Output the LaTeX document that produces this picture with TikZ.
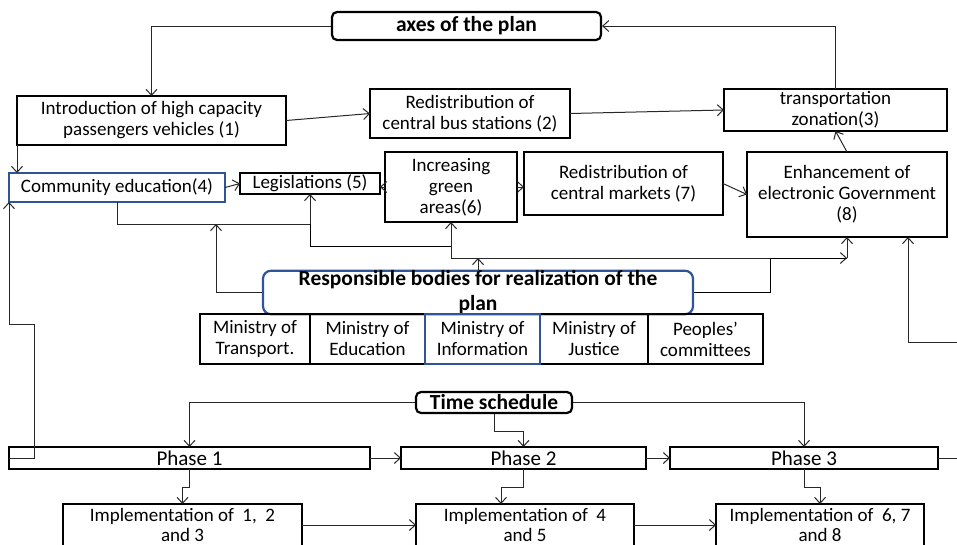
\documentclass[tikz,border=0pt]{standalone}
\usepackage{fontspec}
\setmainfont{Carlito}
\usepackage{tikz}
\usetikzlibrary{arrows.meta,positioning,calc}
\definecolor{planblue}{RGB}{47,85,151}
\definecolor{linegray}{RGB}{40,40,40}
\tikzset{
  goal/.style={draw, line width=2.2pt, align=center, inner sep=0pt, outer sep=0pt, font=\fontsize{19}{21}\selectfont},
  bluebox/.style={goal, draw=planblue, line width=1.8pt},
  headbox/.style={draw, line width=2.2pt, rounded corners=5pt, align=center, inner sep=0pt, font=\bfseries\fontsize{21.5}{24}\selectfont},
  phasebox/.style={goal, font=\fontsize{21}{22}\selectfont},
  arrow/.style={-{Straight Barb[length=6pt,width=11pt]}, line width=1pt, linegray},
}

\begin{document}
\begin{tikzpicture}[x=1pt, y=-1pt]
\useasboundingbox (0,0) rectangle (957,544);

% axes
\node[headbox, minimum width=269pt, minimum height=28pt] (axes) at (466.5,26) {axes of the plan};
\node[goal, minimum width=269pt, minimum height=49pt] (g1) at (151.5,120.5) {Introduction of high capacity\\passengers vehicles (1)};
\node[goal, minimum width=200pt, minimum height=49pt] (g2) at (470,113.5) {Redistribution of\\central bus stations (2)};
\node[goal, minimum width=223pt, minimum height=42pt] (g3) at (835.5,110) {transportation\\zonation(3)};
\node[bluebox, minimum width=216pt, minimum height=29pt] (g4) at (117,187.5) {Community education(4)};
\node[goal, minimum width=140pt, minimum height=21pt] (g5) at (310,183.5) {Legislations (5)};
\node[goal, minimum width=132pt, minimum height=70pt] (g6) at (451,187) {Increasing\\green\\areas(6)};
\node[goal, minimum width=199pt, minimum height=63pt] (g7) at (623.5,183.5) {Redistribution of\\central markets (7)};
\node[goal, minimum width=200pt, minimum height=85pt] (g8) at (847,194.5) {Enhancement of\\electronic Government\\(8)};

% responsible bodies
\node[headbox, draw=planblue, rounded corners=8pt, minimum width=430pt, minimum height=43pt, font=\bfseries\fontsize{21.5}{25}\selectfont] (resp) at (478,292.5) {Responsible bodies for realization of the\\plan};
\node[goal, minimum width=110pt, minimum height=50pt] (m1) at (255,339) {Ministry of\\Transport.};
\node[goal, right=0pt of m1, minimum width=115pt, minimum height=50pt] (m2) {Ministry of\\Education};
\node[goal, minimum width=108pt, minimum height=50pt] (m4) at (594,339) {Ministry of\\Justice};
\node[goal, right=0pt of m4, minimum width=115pt, minimum height=50pt] (m5) {Peoples’\\committees};
\node[bluebox, minimum width=115pt, minimum height=50pt] (m3) at (482.5,339) {Ministry of\\Information};

% time schedule
\node[headbox, minimum width=156pt, minimum height=21pt] (ts) at (494,402.5) {Time schedule};
\node[phasebox, minimum width=361pt, minimum height=22pt] (p1) at (189.5,458) {Phase 1};
\node[phasebox, minimum width=245pt, minimum height=22pt] (p2) at (523.5,458) {Phase 2};
\node[phasebox, minimum width=268pt, minimum height=22pt] (p3) at (804,458) {Phase 3};
\node[goal, minimum width=239pt, minimum height=42pt, font=\fontsize{19}{20}\selectfont] (i1) at (182.5,525) {Implementation of~ 1,~ 2\\and 3};
\node[goal, minimum width=218pt, minimum height=42pt, font=\fontsize{19}{20}\selectfont] (i2) at (525,525) {Implementation of~ 4\\and 5};
\node[goal, minimum width=208pt, minimum height=42pt, font=\fontsize{19}{20}\selectfont] (i3) at (820,525) {Implementation of~ 6, 7\\and 8};

\coordinate (j1) at (310,224);
\coordinate (j2) at (451,246);
\coordinate (j3) at (451,258);
\coordinate (j4) at (847,258);
\coordinate (j5) at (216,224);
\coordinate (j6) at (908,342);
\coordinate (j7) at (9,324);

% axes links
\draw[arrow] (axes.west) -| (g1.north);
\draw[arrow] (g3.north) |- (axes.east);
\draw[arrow] (g1.east) -- (g2.west);
\draw[arrow] (g2.east) -- (g3.west);
\draw[arrow] (g1.south west) -- (g1.south west |- g4.north);
\draw[arrow] (g4.east) -- (g5.west);
\draw[arrow] (g6.west) -- (g6.west -| g5.east);
\draw[arrow] (g6.east) -- (g6.east -| g7.west);
\draw[arrow] (g7.east) -- (g8.west);
\draw[arrow] (g8.north) -- (g3.south);

% bodies to axes
\draw[arrow] (g4.south) |- (j1) -- (g5.south);
\draw (j1) |- (j2);
\draw[arrow] (j3) -- (g6.south);
\draw[arrow] (resp.north) -- (resp.north |- j3);
\draw[arrow] (j3) -- (j4);
\draw[arrow] (j4) -- (g8.south);
\draw[arrow] (resp.west) -| (j5);
\draw (resp.east) -| ([xshift=-77pt]j4) -- (j4);
\draw[arrow] (p3.east) -- ++(40,0) |- (j6) -- (j6 |- g8.south);
\draw[arrow] (p1.west) -- ++(25,0) |- (j7) -- (g4.south west);

% schedule
\draw[arrow] (ts.west) -| (p1.north);
\draw[arrow] (ts.south) -- ++(0,17) -| (p2.north);
\draw[arrow] (ts.east) -| (p3.north);
\draw[arrow] (p1.east) -- (p2.west);
\draw[arrow] (p2.east) -- (p3.west);
\draw[arrow] (p1.south) -- ++(0,18) -| (i1.north);
\draw[arrow] (p2.south) -- ++(0,18) -| ([xshift=-24pt]i2.north);
\draw[arrow] (p3.south) -- ++(0,18) -| (i3.north);
\draw[arrow] (i1.east) -- (i2.west);
\draw[arrow] (i2.east) -- (i3.west);
\end{tikzpicture}
\end{document}
